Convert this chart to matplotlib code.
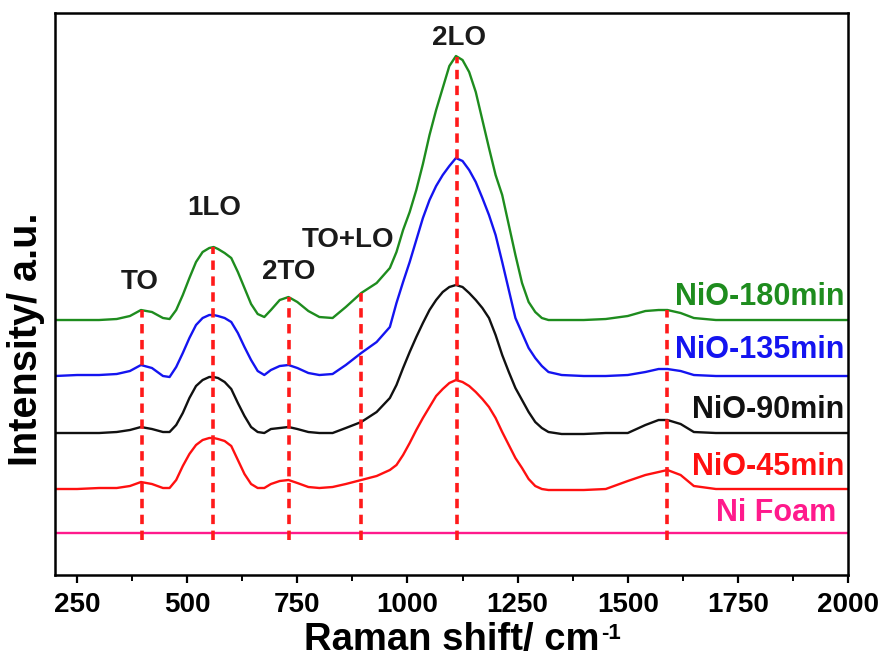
import matplotlib
matplotlib.use("Agg")
import matplotlib.pyplot as plt
from matplotlib.ticker import MultipleLocator

plt.rcParams['font.family'] = ['Liberation Sans', 'DejaVu Sans']
plt.rcParams['font.weight'] = 'bold'

# Raman shift sample points (cm-1)
wavenumber = [200, 250, 300, 340, 370, 395, 420, 445, 460, 475,
              490, 505, 520, 535, 550, 560, 570, 585, 600, 615,
              630, 645, 660, 675, 690, 710, 730, 750, 775, 800,
              830, 860, 895, 930, 960, 975, 990, 1005, 1020, 1035,
              1050, 1065, 1080, 1095, 1110, 1125, 1140, 1155, 1170, 1185,
              1200, 1215, 1230, 1245, 1260, 1275, 1290, 1305, 1320, 1350,
              1400, 1450, 1500, 1540, 1570, 1590, 1620, 1650, 1700, 1750,
              1800, 1850, 1900, 1950, 2000]

# Intensities (a.u., vertically offset as in the figure)
nio_180 = [255, 255, 255, 256, 259, 265, 263, 257, 256, 265,
           280, 297, 313, 323, 327, 328, 326, 322, 317, 303,
           287, 271, 261, 258, 265, 275, 278, 273, 264, 258,
           257, 268, 282, 292, 307, 323, 345, 363, 385, 411,
           440, 465, 487, 509, 519, 515, 503, 483, 455, 427,
           400, 380, 350, 320, 292, 273, 263, 257, 255, 255,
           255, 256, 259, 264, 265, 265, 262, 257, 255, 255,
           255, 255, 255, 255, 255]
nio_135 = [199, 200, 200, 201, 204, 210, 207, 199, 198, 208,
           222, 237, 250, 257, 260, 260, 259, 257, 253, 242,
           228, 215, 204, 200, 205, 209, 210, 207, 202, 200,
           201, 210, 222, 233, 248, 272, 293, 313, 335, 357,
           375, 389, 400, 409, 417, 414, 405, 393, 377, 360,
           340, 313, 285, 257, 242, 227, 217, 209, 203, 200,
           199, 199, 200, 203, 206, 206, 204, 200, 199, 199,
           199, 199, 199, 199, 199]
nio_90 = [142, 142, 142, 143, 145, 148, 146, 143, 143, 150,
          162, 177, 189, 195, 198, 198, 197, 193, 186, 172,
          159, 148, 143, 142, 146, 147, 148, 146, 143, 142,
          142, 147, 153, 163, 177, 190, 207, 223, 238, 252,
          265, 275, 283, 288, 290, 288, 282, 275, 267, 257,
          240, 220, 203, 187, 175, 163, 153, 147, 143, 141,
          141, 142, 142, 150, 155, 155, 151, 143, 142, 142,
          142, 142, 142, 142, 142]
nio_45 = [86, 86, 87, 87, 89, 93, 91, 87, 87, 95,
          109, 121, 130, 135, 137, 137, 136, 134, 129, 115,
          101, 91, 87, 87, 91, 94, 95, 92, 88, 87,
          88, 91, 95, 99, 105, 110, 120, 132, 145, 157,
          168, 179, 186, 192, 195, 193, 189, 183, 176, 168,
          157, 143, 130, 117, 107, 96, 89, 86, 85, 85,
          85, 86, 94, 100, 103, 105, 100, 89, 86, 86,
          86, 86, 86, 86, 86]
ni_foam = [42] * len(wavenumber)

series_names = ['NiO-180min', 'NiO-135min', 'NiO-90min', 'NiO-45min', 'Ni Foam']
series_values = [nio_180, nio_135, nio_90, nio_45, ni_foam]
series_colors = ['#1e8c1e', '#1414f0', '#111111', '#ff1010', '#ff1a8c']

# Peak assignments
peak_names = ['TO', '1LO', '2TO', 'TO+LO', '2LO', '']
peak_positions = [398, 559, 732, 895, 1113, 1589]
peak_tops = [265, 328, 278, 282, 518, 265]

x_ticks = [250, 500, 750, 1000, 1250, 1500, 1750, 2000]

fig = plt.figure(figsize=(8.82, 6.61), dpi=100)
ax = fig.add_axes([0.0624, 0.1301, 0.8991, 0.8502])

for vals, col in zip(series_values, series_colors):
    ax.plot(wavenumber, vals, color=col, lw=1.7, zorder=2)

for pos, top in zip(peak_positions, peak_tops):
    ax.plot([pos, pos], [35, top], color='#ff1a1a', lw=2.6,
            dashes=(2.6, 1.8), zorder=3)

# peak labels
label_xy = {'TO': (393, 293), '1LO': (561, 367), '2TO': (730, 303),
            'TO+LO': (866, 335), '2LO': (1116, 537)}
for name in peak_names:
    if name:
        lx, ly = label_xy[name]
        ax.text(lx, ly, name, ha='center', va='center', fontsize=20,
                fontweight='bold', color='#1a1a1a')

# series labels
series_label_y = [278, 225, 165, 108, 62]
for name, col, ly in zip(series_names, series_colors, series_label_y):
    xr = 1973 if name == 'Ni Foam' else 1991
    ax.text(xr, ly, name, ha='right', va='center', fontsize=22,
            fontweight='bold', color=col)

ax.set_xlim(200, 2000)
ax.set_ylim(0, 562)
ax.set_xticks(x_ticks)
ax.xaxis.set_minor_locator(MultipleLocator(125))
ax.set_yticks([])
ax.tick_params(axis='x', which='major', direction='out', length=6, width=1.6,
               labelsize=20, pad=6)
ax.tick_params(axis='x', which='minor', direction='out', length=4, width=1.4)
for lab in ax.get_xticklabels():
    lab.set_fontweight('bold')
for sp in ax.spines.values():
    sp.set_linewidth(1.8)

ax.set_xlabel('Raman shift/ cm', fontsize=27.5, fontweight='bold')
ax.xaxis.set_label_coords(0.5, -0.083)
ax.annotate('-1', xy=(1.0, 1.0), xycoords=ax.xaxis.label,
            xytext=(1, -1), textcoords='offset points',
            ha='left', va='top', fontsize=16, fontweight='bold')
ax.set_ylabel('Intensity/ a.u.', fontsize=28.5, fontweight='bold')
ax.yaxis.set_label_coords(-0.013, 0.42)

fig.savefig('out.png', dpi=100)
